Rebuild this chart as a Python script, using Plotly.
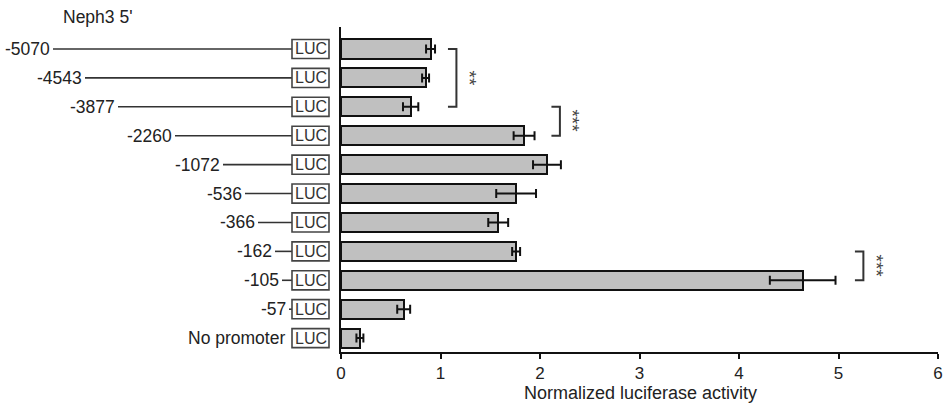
import plotly.graph_objects as go

# ---------------- data ----------------
labels = ["-5070", "-4543", "-3877", "-2260", "-1072", "-536", "-366", "-162", "-105", "-57", "No promoter"]
values = [0.90, 0.85, 0.70, 1.84, 2.07, 1.76, 1.58, 1.76, 4.64, 0.63, 0.19]
errors = [0.045, 0.035, 0.077, 0.105, 0.14, 0.20, 0.10, 0.04, 0.33, 0.065, 0.035]
# length of the promoter line in the schematic (schematic units)
line_lengths = [239, 207, 174, 117, 69, 47, 34, 17, 10, 3, 0]
# significance brackets: (first row, last row, label, bracket x in data units)
sig_rows_a = [0, 2, 7]
sig_rows_b = [2, 3, 8]
sig_text = ["**", "***", "***"]
sig_x = [1.16, 2.20, 5.25]
x_ticks = [0, 1, 2, 3, 4, 5, 6]
x_title = "Normalized luciferase activity"
header = "Neph3 5'"

W, H = 945, 407
FONT = "Liberation Sans, Arial, sans-serif"
rows = list(range(len(labels)))

fig = go.Figure()
fig.add_trace(go.Bar(
    x=values, y=rows, orientation="h", width=0.66,
    marker=dict(color="#c0c0c0", line=dict(color="#111111", width=2)),
    error_x=dict(type="data", array=errors, visible=True, color="#111111", thickness=2, width=4.5),
    hoverinfo="skip", showlegend=False,
))

shapes = []
annotations = []

# schematic on a secondary x axis (units = pixels of the left panel)
BOX_L, BOX_R = 292, 329
for i, lab in enumerate(labels):
    L = line_lengths[i]
    x0 = BOX_L - L
    if L > 0:
        shapes.append(dict(type="line", xref="x2", yref="y", x0=x0, x1=BOX_L, y0=i, y1=i,
                           line=dict(color="#333333", width=1.6)))
        lab_x = x0 - 1
    else:
        lab_x = BOX_L - 5
    shapes.append(dict(type="rect", xref="x2", yref="y", x0=BOX_L, x1=BOX_R, y0=i - 0.33, y1=i + 0.33,
                       line=dict(color="#444444", width=1.6), fillcolor="white"))
    annotations.append(dict(xref="x2", yref="y", x=(BOX_L + BOX_R) / 2 + 0.5, y=i, text="LUC", showarrow=False,
                            font=dict(family=FONT, size=16, color="#333333"), xanchor="center", yanchor="middle"))
    annotations.append(dict(xref="x2", yref="y", x=lab_x, y=i, text=lab, showarrow=False,
                            font=dict(family=FONT, size=17.5, color="#222222"), xanchor="right", yanchor="middle"))

# significance brackets
for a, b, t, bx in zip(sig_rows_a, sig_rows_b, sig_text, sig_x):
    tick = 0.085
    shapes.append(dict(type="path", xref="x", yref="y",
                       path=f"M {bx - tick},{a} L {bx},{a} L {bx},{b} L {bx - tick},{b}",
                       line=dict(color="#333333", width=2)))
    annotations.append(dict(xref="x", yref="y", x=bx + 0.13, y=(a + b) / 2, text=t, showarrow=False,
                            textangle=90, font=dict(family=FONT, size=19, color="#444444"),
                            xanchor="center", yanchor="middle"))

annotations.append(dict(xref="paper", yref="paper", x=640 / W, y=1 - 393 / H, text=x_title, showarrow=False,
                        font=dict(family=FONT, size=18, color="#222222"), xanchor="center", yanchor="middle"))
annotations.append(dict(xref="paper", yref="paper", x=61 / W, y=1 - 17 / H, text=header, showarrow=False,
                        font=dict(family=FONT, size=17.5, color="#222222"), xanchor="left", yanchor="middle"))

fig.update_layout(
    width=W, height=H, margin=dict(l=0, r=0, t=0, b=0),
    paper_bgcolor="white", plot_bgcolor="white",
    font=dict(family=FONT, color="#222222"),
    bargap=0,
    xaxis=dict(domain=[341 / W, 938 / W], range=[0, 6], tickvals=x_ticks, ticks="outside", ticklen=5,
               tickwidth=2, tickcolor="#111111", showline=True, linewidth=2, linecolor="#111111",
               showgrid=False, zeroline=False, tickfont=dict(size=17, family=FONT, color="#222222"),
               anchor="y", automargin=False),
    xaxis2=dict(domain=[0, 341 / W], range=[0, 341], visible=False, anchor="y", fixedrange=True),
    yaxis=dict(domain=[1 - 352 / H, 1 - 27 / H], range=[10.48, -0.76], showline=True, linewidth=2,
               linecolor="#111111", showticklabels=False, ticks="", showgrid=False, zeroline=False,
               automargin=False),
    shapes=shapes, annotations=annotations,
)

fig.write_html("out.html")
